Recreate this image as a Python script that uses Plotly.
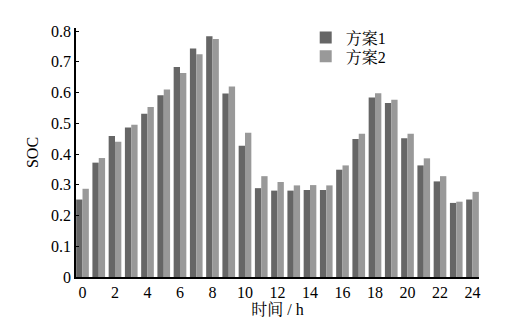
import plotly.graph_objects as go

hours = list(range(25))
plan1 = [0.252, 0.372, 0.459, 0.486, 0.531, 0.591, 0.683, 0.743, 0.783, 0.597, 0.427,
         0.289, 0.281, 0.281, 0.283, 0.283, 0.349, 0.449, 0.584, 0.566, 0.451,
         0.363, 0.311, 0.241, 0.252]
plan2 = [0.287, 0.387, 0.440, 0.495, 0.553, 0.610, 0.664, 0.725, 0.774, 0.620, 0.469,
         0.328, 0.309, 0.298, 0.299, 0.298, 0.363, 0.466, 0.598, 0.577, 0.466,
         0.386, 0.328, 0.245, 0.277]
xticks = list(range(0, 25, 2))
yticks = [0, 0.1, 0.2, 0.3, 0.4, 0.5, 0.6, 0.7, 0.8]
ytick_text = ["0", "0.1", "0.2", "0.3", "0.4", "0.5", "0.6", "0.7", "0.8"]

FONT = "Liberation Serif, Times New Roman, Noto Serif CJK SC, Noto Sans CJK SC, serif"

fig = go.Figure()
fig.add_trace(go.Bar(x=hours, y=plan1, name="方案1", legend="legend",
                     marker=dict(color="#666666", line=dict(width=0))))
fig.add_trace(go.Bar(x=hours, y=plan2, name="方案2", legend="legend2",
                     marker=dict(color="#999999", line=dict(width=0))))

leg_common = dict(xanchor="left", yanchor="top", bgcolor="rgba(0,0,0,0)",
                  font=dict(family=FONT, size=16), itemwidth=30)

fig.update_layout(
    width=531, height=331,
    margin=dict(l=76, r=52, t=28, b=54),
    paper_bgcolor="white", plot_bgcolor="white",
    barmode="group", bargap=0.22, bargroupgap=0,
    font=dict(family=FONT, size=16, color="black"),
    showlegend=True,
    legend=dict(x=0.57, y=1.03, **leg_common),
    legend2=dict(x=0.57, y=0.954, **leg_common),
    xaxis=dict(range=[-0.4, 24.4], tickmode="array", tickvals=xticks,
               ticktext=[str(v) for v in xticks], showgrid=False, zeroline=False,
               showline=True, linecolor="black", linewidth=1.5, ticks="",
               tickfont=dict(family=FONT, size=16),
               title=dict(text="时间 / h", font=dict(family=FONT, size=16), standoff=0)),
    yaxis=dict(range=[0, 0.81], tickmode="array", tickvals=yticks, ticktext=ytick_text,
               showgrid=False, zeroline=False, showline=True, linecolor="black",
               linewidth=1.5, ticks="inside", ticklen=3, tickcolor="black",
               tickfont=dict(family=FONT, size=16),
               title=dict(text="SOC", font=dict(family=FONT, size=16), standoff=8)),
)

fig.write_html("out.html")
